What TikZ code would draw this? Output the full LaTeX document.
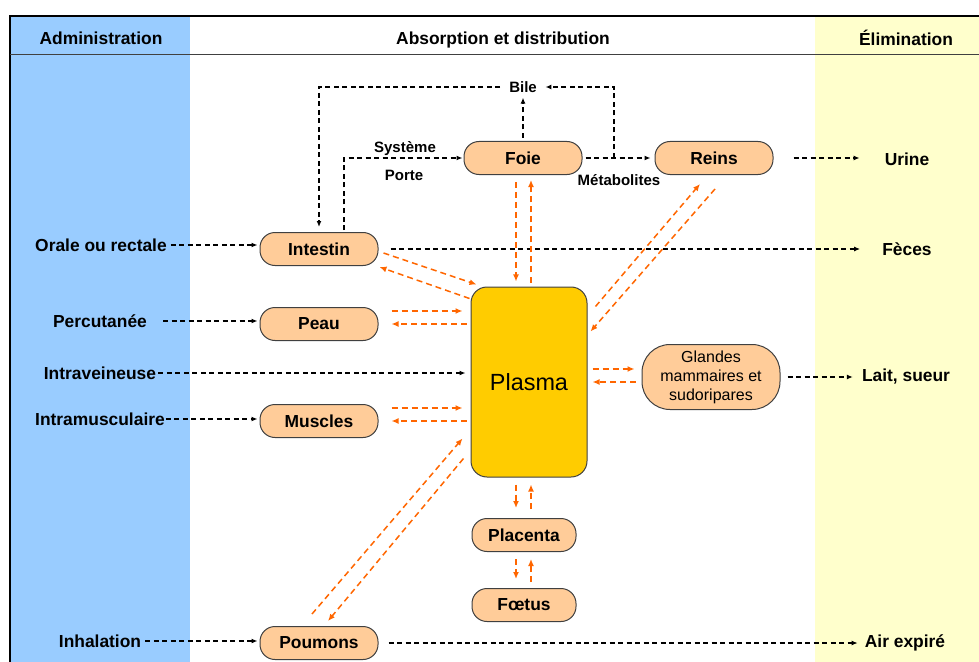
\documentclass[tikz,border=0pt]{standalone}
\usepackage{fontspec}
\setmainfont{Liberation Sans}
\usepackage{tikz}
\usepackage{xcolor}
\usetikzlibrary{calc,arrows.meta,shapes}

\definecolor{colblue}{HTML}{99CCFF}
\definecolor{colyellow}{HTML}{FFFFCC}
\definecolor{organfill}{HTML}{FFCC99}
\definecolor{plasmafill}{HTML}{FFCC00}
\definecolor{flowcol}{HTML}{FF6600}
\definecolor{edgecol}{HTML}{404040}

\newcommand{\bigfont}{\fontsize{17.4bp}{20bp}\selectfont\bfseries}
\newcommand{\smallfont}{\fontsize{15bp}{18bp}\selectfont\bfseries}
\newcommand{\glandfont}{\fontsize{16bp}{19bp}\selectfont}
\newcommand{\plasmafont}{\fontsize{23.4bp}{26bp}\selectfont}

\begin{document}
\begin{tikzpicture}[x=1bp,y=-1bp,
organ node/.style = {rectangle, rounded corners=15bp, draw=edgecol, fill=organfill, line width=1bp, minimum width=118bp, minimum height=33bp, inner sep=0pt, font=\bigfont},
gland node/.style = {organ node, rounded corners=28bp, minimum width=138bp, minimum height=65bp, align=center, font=\glandfont},
plasma node/.style = {rectangle, rounded corners=16bp, draw=edgecol, fill=plasmafill, line width=1bp, minimum width=116bp, minimum height=190bp, font=\plasmafont},
label node/.style = {inner sep=0pt, text depth=0pt, font=\bigfont},
small node/.style = {inner sep=0pt, text depth=0pt, font=\smallfont},
blk/.style = {draw=black, line width=1.3bp, dash pattern=on 5bp off 3.5bp, -{Latex[length=6bp,width=5bp]}},
flow/.style = {draw=flowcol, line width=1.5bp, dash pattern=on 6bp off 4bp, -{Latex[length=7bp,width=6bp]}}]
\useasboundingbox (0,0) rectangle (979,662);

% colonnes
\fill[colblue] (10,16) rectangle (190,662);
\fill[colyellow] (815,16) rectangle (979,662);
\draw[line width=2bp] (10,662) -- (10,16) -- (979,16);
\draw[edgecol, line width=1bp] (10,55) -- (979,55);
\node[label node] (hadm) at (101,38) {Administration};
\node[label node] (habs) at (503,38) {Absorption et distribution};
\node[label node] (helim) at (906,38) {Élimination};

\node[organ node] (intestin) at (319,249) {Intestin};
\node[organ node] (peau) at (319,324) {Peau};
\node[organ node] (muscles) at (319,421) {Muscles};
\node[organ node] (poumons) at (319,643) {Poumons};
\node[organ node] (foie) at (523,158) {Foie};
\node[organ node] (reins) at (714,158) {Reins};
\node[organ node, minimum width=104bp] (placenta) at (524,535) {Placenta};
\node[organ node, minimum width=104bp] (foetus) at (524,605) {Fœtus};
\node[gland node] (glandes) at (711,377) {Glandes\\mammaires et\\sudoripares};
\node[plasma node] (plasma) at (529,382) {Plasma};

\node[label node] (orale) at (101,245) {Orale ou rectale};
\node[label node] (percut) at (100,321) {Percutanée};
\node[label node] (iv) at (100,373) {Intraveineuse};
\node[label node] (im) at (100,419) {Intramusculaire};
\node[label node] (inhal) at (100,641) {Inhalation};
\node[label node] (urine) at (907,159) {Urine};
\node[label node] (feces) at (907,249) {Fèces};
\node[label node] (lait) at (906,375) {Lait, sueur};
\node[label node] (air) at (905,641) {Air expiré};
\node[small node] (bile) at (523,87) {Bile};
\node[small node] (systeme) at (405,147) {Système};
\node[small node] (porte) at (404,175) {Porte};
\node[small node] (metab) at (619,180) {Métabolites};
\coordinate (junc) at (614,158);

% administration
\draw[blk, shorten <=4bp, shorten >=2bp] (orale.east) -- (orale.east -| intestin.west);
\draw[blk, shorten <=16bp, shorten >=2bp] (percut.east) -- (percut.east -| peau.west);
\draw[blk, shorten <=2bp, shorten >=5bp] (iv.east) -- (iv.east -| plasma.west);
\draw[blk, shorten <=1bp, shorten >=2bp] (im.east) -- (im.east -| muscles.west);
\draw[blk, shorten <=4bp, shorten >=2bp] (inhal.east) -- (inhal.east -| poumons.west);

% elimination
\draw[blk, shorten <=12bp, shorten >=22bp] (intestin.east) -- (intestin.east -| feces.west);
\draw[blk, shorten <=20bp, shorten >=25bp] (reins.east) -- (reins.east -| urine.west);
\draw[blk, shorten <=7bp, shorten >=9bp] (glandes.east) -- (glandes.east -| lait.west);
\draw[blk, shorten <=10bp, shorten >=7bp] (poumons.east) -- (poumons.east -| air.west);

% bile et systeme porte
\draw[blk, shorten <=3bp, shorten >=5bp] (foie) -- (bile);
\draw[blk, shorten >=8.5bp] (junc) |- (bile.east);
\draw[blk, shorten <=9bp, shorten >=5bp] (bile.west) -| (intestin.north);
\draw[blk, shorten <=2bp, shorten >=1bp] ([shift={(25,0)}]intestin.north) |- (foie.west);
\draw[blk, shorten <=3bp, shorten >=4bp] (foie) -- (reins);

% distribution
\draw[flow, shorten <=7bp, shorten >=5bp] ([shift={(-7,0)}]foie.south) -- ([shift={(-7,0)}]foie.south |- plasma.north);
\draw[flow, shorten <=4bp, shorten >=5bp] ([shift={(8,0)}]foie.south |- plasma.north) -- ([shift={(8,0)}]foie.south);
\draw[flow, shorten <=7bp, shorten >=10bp] ([shift={(-8,0)}]placenta.north |- plasma.south) -- ([shift={(-8,0)}]placenta.north);
\draw[flow, shorten <=9bp, shorten >=7bp] ([shift={(7,0)}]placenta.north) -- ([shift={(7,0)}]placenta.north |- plasma.south);
\draw[flow, shorten <=7bp, shorten >=9bp] ([shift={(-8,0)}]placenta.south) -- ([shift={(-8,0)}]foetus.north);
\draw[flow, shorten <=6bp, shorten >=7bp] ([shift={(7,0)}]foetus.north) -- ([shift={(7,0)}]placenta.south);
\draw[flow, shorten <=13bp, shorten >=8bp] ([shift={(0,-13)}]peau.east) -- ([shift={(0,-13)}]peau.east -| plasma.west);
\draw[flow, shorten <=4bp, shorten >=13bp] (peau.east -| plasma.west) -- (peau.east);
\draw[flow, shorten <=13bp, shorten >=8bp] ([shift={(0,-13)}]muscles.east) -- ([shift={(0,-13)}]muscles.east -| plasma.west);
\draw[flow, shorten <=4bp, shorten >=13bp] (muscles.east -| plasma.west) -- (muscles.east);
\draw[flow, shorten <=5bp, shorten >=7bp] ([shift={(0,-8)}]plasma.east |- glandes.west) -- ([shift={(0,-8)}]glandes.west);
\draw[flow, shorten <=6bp, shorten >=5bp] ([shift={(0,5)}]glandes.west) -- ([shift={(0,5)}]plasma.east |- glandes.west);
\draw[flow] ([shift={(5,4)}]intestin.east) -- ([shift={(6,-2)}]plasma.north west);
\draw[flow] ([shift={(-1,12)}]plasma.north west) -- ([shift={(1,1)}]intestin.south east);
\draw[flow] ([shift={(8,20)}]plasma.north east) -- ([shift={(-14,9)}]reins.south);
\draw[flow] ([shift={(1,14)}]reins.south) -- ([shift={(3,45)}]plasma.north east);
\draw[flow] ([shift={(-7,-12)}]poumons.north) -- ([shift={(-8,-39)}]plasma.south west);
\draw[flow] ([shift={(-7,-19)}]plasma.south west) -- ([shift={(9,-5)}]poumons.north);
\end{tikzpicture}
\end{document}
